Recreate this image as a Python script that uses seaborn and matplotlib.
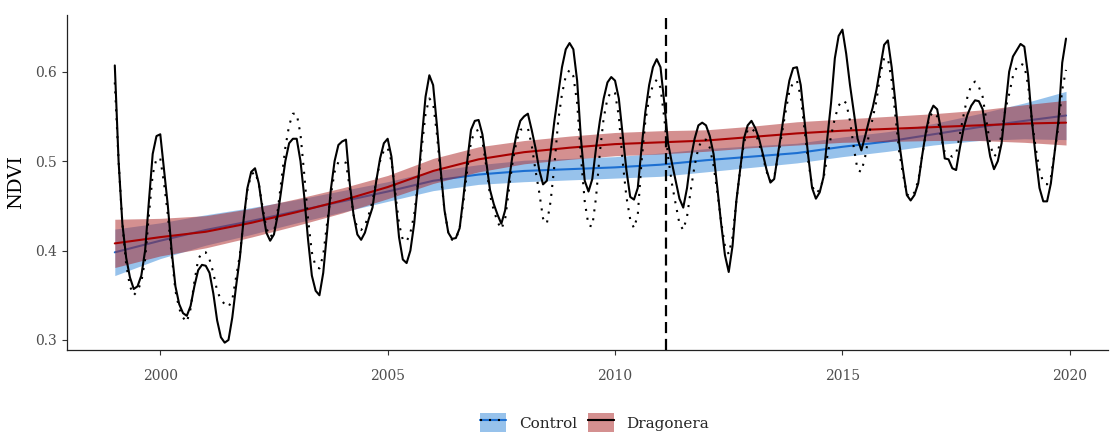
import numpy as np
import pandas as pd
import matplotlib
matplotlib.use("Agg")
import matplotlib.pyplot as plt
import seaborn as sns
from matplotlib.patches import Patch
from matplotlib.lines import Line2D

# ---- data -----------------------------------------------------------------
sites = ["Control", "Dragonera"]
first_month = "1999-01-01"

# monthly mean NDVI, one row per year (Jan .. Dec)
dragonera_ndvi = [
    0.607, 0.500, 0.430, 0.392, 0.370, 0.357, 0.360, 0.372, 0.400, 0.455, 0.508, 0.528,  # 1999
    0.530, 0.490, 0.450, 0.400, 0.360, 0.340, 0.330, 0.327, 0.338, 0.360, 0.378, 0.384,  # 2000
    0.383, 0.375, 0.352, 0.322, 0.303, 0.297, 0.300, 0.325, 0.360, 0.392, 0.435, 0.470,  # 2001
    0.488, 0.492, 0.475, 0.445, 0.420, 0.411, 0.418, 0.440, 0.470, 0.500, 0.520, 0.525,  # 2002
    0.525, 0.500, 0.460, 0.412, 0.372, 0.355, 0.350, 0.375, 0.420, 0.468, 0.500, 0.518,  # 2003
    0.522, 0.524, 0.475, 0.440, 0.418, 0.412, 0.420, 0.435, 0.448, 0.478, 0.503, 0.520,  # 2004
    0.525, 0.505, 0.460, 0.415, 0.390, 0.386, 0.400, 0.430, 0.475, 0.525, 0.572, 0.596,  # 2005
    0.585, 0.540, 0.490, 0.445, 0.420, 0.413, 0.414, 0.425, 0.460, 0.500, 0.535, 0.545,  # 2006
    0.546, 0.530, 0.500, 0.468, 0.452, 0.440, 0.430, 0.445, 0.478, 0.508, 0.530, 0.545,  # 2007
    0.550, 0.553, 0.535, 0.515, 0.490, 0.474, 0.478, 0.510, 0.545, 0.575, 0.605, 0.625,  # 2008
    0.632, 0.625, 0.590, 0.525, 0.478, 0.466, 0.480, 0.515, 0.545, 0.570, 0.588, 0.594,  # 2009
    0.590, 0.570, 0.530, 0.490, 0.460, 0.457, 0.470, 0.515, 0.555, 0.585, 0.605, 0.614,  # 2010
    0.605, 0.565, 0.520, 0.498, 0.478, 0.458, 0.448, 0.470, 0.503, 0.525, 0.540, 0.543,  # 2011
    0.540, 0.528, 0.508, 0.470, 0.430, 0.395, 0.376, 0.405, 0.455, 0.490, 0.525, 0.540,  # 2012
    0.545, 0.537, 0.525, 0.508, 0.490, 0.476, 0.480, 0.508, 0.535, 0.565, 0.590, 0.604,  # 2013
    0.605, 0.585, 0.545, 0.505, 0.470, 0.458, 0.465, 0.482, 0.525, 0.565, 0.615, 0.640,  # 2014
    0.647, 0.620, 0.585, 0.555, 0.525, 0.512, 0.528, 0.545, 0.560, 0.580, 0.605, 0.630,  # 2015
    0.635, 0.605, 0.565, 0.520, 0.490, 0.462, 0.456, 0.462, 0.475, 0.505, 0.532, 0.553,  # 2016
    0.562, 0.558, 0.535, 0.503, 0.502, 0.492, 0.490, 0.515, 0.537, 0.552, 0.562, 0.568,  # 2017
    0.567, 0.558, 0.530, 0.505, 0.491, 0.500, 0.520, 0.560, 0.600, 0.617, 0.624, 0.631,  # 2018
    0.628, 0.596, 0.545, 0.505, 0.470, 0.455, 0.455, 0.475, 0.510, 0.545, 0.610, 0.637,  # 2019
]

control_ndvi = [
    0.588, 0.500, 0.430, 0.385, 0.360, 0.350, 0.355, 0.365, 0.390, 0.440, 0.485, 0.503,  # 1999
    0.503, 0.475, 0.440, 0.395, 0.355, 0.335, 0.325, 0.320, 0.335, 0.365, 0.390, 0.398,  # 2000
    0.398, 0.390, 0.375, 0.355, 0.345, 0.340, 0.337, 0.345, 0.370, 0.395, 0.435, 0.468,  # 2001
    0.485, 0.488, 0.475, 0.448, 0.425, 0.415, 0.420, 0.445, 0.480, 0.515, 0.540, 0.553,  # 2002
    0.553, 0.530, 0.485, 0.435, 0.398, 0.382, 0.380, 0.395, 0.430, 0.462, 0.488, 0.499,  # 2003
    0.500, 0.498, 0.470, 0.440, 0.425, 0.423, 0.428, 0.440, 0.455, 0.478, 0.500, 0.512,  # 2004
    0.515, 0.500, 0.465, 0.430, 0.412, 0.410, 0.420, 0.440, 0.475, 0.515, 0.553, 0.570,  # 2005
    0.565, 0.530, 0.485, 0.445, 0.420, 0.412, 0.413, 0.425, 0.455, 0.490, 0.522, 0.533,  # 2006
    0.535, 0.522, 0.495, 0.462, 0.445, 0.432, 0.424, 0.435, 0.468, 0.500, 0.522, 0.535,  # 2007
    0.536, 0.537, 0.518, 0.490, 0.465, 0.436, 0.430, 0.455, 0.495, 0.545, 0.575, 0.595,  # 2008
    0.602, 0.595, 0.565, 0.505, 0.455, 0.428, 0.427, 0.460, 0.510, 0.548, 0.570, 0.578,  # 2009
    0.576, 0.550, 0.500, 0.460, 0.435, 0.425, 0.440, 0.500, 0.545, 0.570, 0.585, 0.591,  # 2010
    0.582, 0.548, 0.505, 0.475, 0.452, 0.430, 0.423, 0.438, 0.468, 0.495, 0.515, 0.524,  # 2011
    0.524, 0.515, 0.495, 0.465, 0.432, 0.405, 0.396, 0.415, 0.455, 0.490, 0.520, 0.535,  # 2012
    0.537, 0.532, 0.520, 0.505, 0.488, 0.478, 0.482, 0.505, 0.530, 0.555, 0.578, 0.588,  # 2013
    0.590, 0.572, 0.535, 0.500, 0.472, 0.464, 0.468, 0.480, 0.505, 0.528, 0.548, 0.562,  # 2014
    0.568, 0.565, 0.545, 0.515, 0.490, 0.488, 0.505, 0.530, 0.548, 0.568, 0.598, 0.615,  # 2015
    0.615, 0.590, 0.550, 0.510, 0.485, 0.463, 0.460, 0.465, 0.478, 0.505, 0.530, 0.550,  # 2016
    0.555, 0.550, 0.528, 0.510, 0.507, 0.505, 0.508, 0.530, 0.552, 0.572, 0.585, 0.589,  # 2017
    0.583, 0.572, 0.545, 0.518, 0.505, 0.510, 0.530, 0.558, 0.575, 0.595, 0.605, 0.609,  # 2018
    0.607, 0.585, 0.545, 0.515, 0.490, 0.476, 0.474, 0.482, 0.510, 0.540, 0.580, 0.602,  # 2019
]

# smoothed trend per site with the half width of its confidence band
fit_years = [1999.0, 2000, 2001, 2002, 2003, 2004, 2005, 2006, 2007, 2008, 2009,
             2010, 2011, 2012, 2013, 2014, 2015, 2016, 2017, 2018, 2019, 2019.917]
control_fit = [0.398, 0.411, 0.423, 0.433, 0.444, 0.455, 0.466, 0.478, 0.485, 0.489, 0.491,
               0.493, 0.496, 0.501, 0.505, 0.509, 0.516, 0.522, 0.530, 0.538, 0.545, 0.551]
control_halfwidth = [0.026, 0.020, 0.017, 0.015, 0.013, 0.012, 0.011, 0.011, 0.011, 0.012, 0.012,
                     0.012, 0.013, 0.013, 0.012, 0.011, 0.011, 0.011, 0.012, 0.015, 0.020, 0.027]
dragonera_fit = [0.408, 0.415, 0.421, 0.431, 0.443, 0.456, 0.471, 0.489, 0.502, 0.510, 0.515,
                 0.519, 0.521, 0.523, 0.527, 0.531, 0.534, 0.536, 0.538, 0.540, 0.542, 0.543]
dragonera_halfwidth = [0.027, 0.021, 0.018, 0.016, 0.015, 0.014, 0.013, 0.014, 0.014, 0.013, 0.013,
                       0.013, 0.013, 0.012, 0.012, 0.013, 0.013, 0.014, 0.015, 0.017, 0.021, 0.025]

event_year = 2011.13
x_ticks = [2000, 2005, 2010, 2015, 2020]
y_ticks = [0.3, 0.4, 0.5, 0.6]

# ---- styling ----------------------------------------------------------------
sns.set_theme(style="ticks")
plt.rcParams["font.family"] = ["DejaVu Serif"]

blue_line, blue_fill = "#1c6fd1", "#3187d9"
red_line, red_fill = "#a80000", "#ab2323"

months = pd.date_range(first_month, periods=len(dragonera_ndvi), freq="MS")
t = (months.year + (months.month - 1) / 12.0).to_numpy()
series = pd.DataFrame({
    "year": np.concatenate([t, t]),
    "ndvi": control_ndvi + dragonera_ndvi,
    "site": [sites[0]] * len(control_ndvi) + [sites[1]] * len(dragonera_ndvi),
})

fig = plt.figure(figsize=(11.1, 4.33), dpi=100)
ax = fig.add_axes([0.0604, 0.1917, 0.9378, 0.7737])

fy = np.array(fit_years)
cf, ch = np.array(control_fit), np.array(control_halfwidth)
df_, dh = np.array(dragonera_fit), np.array(dragonera_halfwidth)

# trend bands: Control first, Dragonera laid over it
ax.fill_between(fy, cf - ch, cf + ch, color=blue_fill, alpha=0.5, lw=0, zorder=1)
sns.lineplot(x=fy, y=cf, color=blue_line, lw=1.5, ax=ax, zorder=2)
ax.fill_between(fy, df_ - dh, df_ + dh, color=red_fill, alpha=0.5, lw=0, zorder=3)
sns.lineplot(x=fy, y=df_, color=red_line, lw=1.5, ax=ax, zorder=4)

# monthly NDVI series
sns.lineplot(data=series, x="year", y="ndvi", style="site", style_order=sites,
             dashes={"Control": (1, 3.3), "Dragonera": ""}, color="black",
             lw=1.5, estimator=None, errorbar=None, legend=False, ax=ax, zorder=5)

ax.axvline(event_year, color="black", lw=1.6, dashes=(5, 2.6), zorder=6)

ax.set_xlim(1997.95, 2020.84)
ax.set_ylim(0.2888, 0.6634)
ax.set_xticks(x_ticks)
ax.set_xticklabels([str(v) for v in x_ticks])
ax.set_yticks(y_ticks)
ax.set_yticklabels([f"{v:.1f}" for v in y_ticks])
ax.set_xlabel("")
ax.set_ylabel("NDVI", fontsize=14, color="black", labelpad=7)

sns.despine(ax=ax)
for side in ("left", "bottom"):
    ax.spines[side].set_color("#222222")
    ax.spines[side].set_linewidth(0.9)
ax.tick_params(axis="both", length=3.5, width=0.8, color="#333333",
               labelcolor="#4d4d4d", labelsize=10)
ax.tick_params(axis="x", pad=10)
ax.tick_params(axis="y", pad=4)

handles = [
    (Patch(facecolor=blue_fill, alpha=0.5, edgecolor="none"),
     Line2D([], [], color=blue_line, lw=1.5),
     Line2D([], [], color="black", lw=1.5, dashes=(1, 3.3))),
    (Patch(facecolor=red_fill, alpha=0.5, edgecolor="none"),
     Line2D([], [], color=red_line, lw=1.5),
     Line2D([], [], color="black", lw=1.5)),
]
fig.legend(handles, sites, loc="center", bbox_to_anchor=(0.5356, 0.024),
           ncol=2, frameon=False, fontsize=11, handlelength=1.7, handleheight=1.5,
           handletextpad=0.85, columnspacing=0.7, borderpad=0, borderaxespad=0)

fig.savefig("out.png", dpi=100)
